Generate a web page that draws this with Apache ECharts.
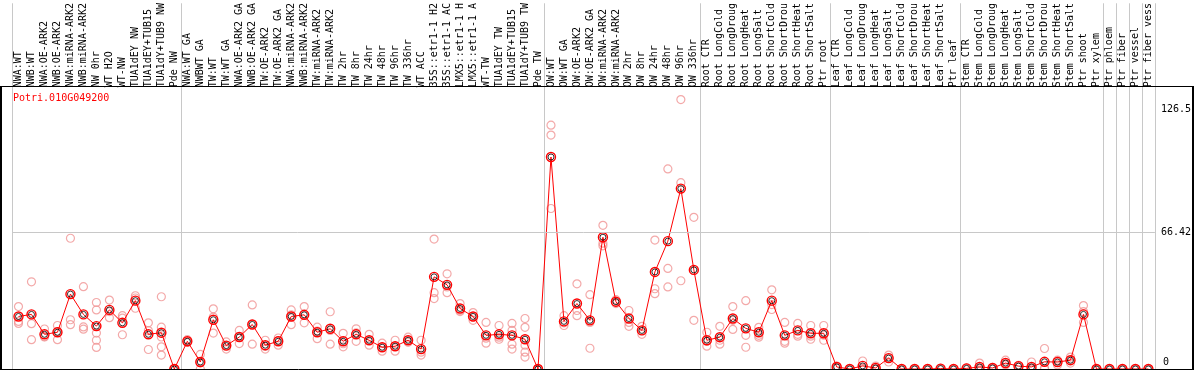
<!DOCTYPE html>
<html>
<head>
<meta charset="utf-8">
<script src="https://cdn.jsdelivr.net/npm/echarts@6/dist/echarts.min.js"></script>
<style>html,body{margin:0;padding:0;background:#fff;}#c{width:1194px;height:370px;}</style>
</head>
<body>
<div id="c"></div>
<script>
const geneId = 'Potri.010G049200';
const categories = [
 'NWA:WT','NWB:WT','NWA:OE-ARK2','NWB:OE-ARK2','NWA:miRNA-ARK2','NWB:miRNA-ARK2','NW 0hr','WT H2O','WT-NW','TUA1dEY NW','TUA1dEY+TUB15','TUA1dY+TUB9 NW','Pde NW',
 'NWA:WT GA','NWBWT GA','TW:WT','TW:WT GA','NWA:OE-ARK2 GA','NWB:OE-ARK2 GA','TW:OE-ARK2','TW:OE-ARK2 GA','NWA:miRNA-ARK2','NWB:miRNA-ARK2','TW:miRNA-ARK2','TW:miRNA-ARK2','TW 2hr','TW 8hr','TW 24hr','TW 48hr','TW 96hr','TW 336hr','WT ACC','35S::etr1-1 H2','35S::etr1-1 AC','LMX5::etr1-1 H','LMX5::etr1-1 A','WT-TW','TUA1dEY TW','TUA1dEY+TUB15','TUA1dY+TUB9 TW','Pde TW',
 'OW:WT','OW:WT GA','OW:OE-ARK2','OW:OE-ARK2 GA','OW:miRNA-ARK2','OW:miRNA-ARK2','OW 2hr','OW 8hr','OW 24hr','OW 48hr','OW 96hr','OW 336hr',
 'Root CTR','Root LongCold','Root LongDroug','Root LongHeat','Root LongSalt','Root ShortCold','Root ShortDrou','Root ShortHeat','Root ShortSalt','Ptr root',
 'Leaf CTR','Leaf LongCold','Leaf LongDroug','Leaf LongHeat','Leaf LongSalt','Leaf ShortCold','Leaf ShortDrou','Leaf ShortHeat','Leaf ShortSalt','Ptr leaf',
 'Stem CTR','Stem LongCold','Stem LongDroug','Stem LongHeat','Stem LongSalt','Stem ShortCold','Stem ShortDrou','Stem ShortHeat','Stem ShortSalt','Ptr shoot','Ptr xylem',
 'Ptr phloem','Ptr fiber','Ptr vessel','Ptr fiber vess'
];
// group boundaries (index of first category of each group, plus the end)
const groupStarts = [0, 13, 41, 53, 63, 73, 84, 85, 86, 87, 88];
// mean expression per category
const means = [
 25.6,26.6,16.9,17.9,36.5,26.6,20.9,28.8,22.5,33.3,16.9,17.7,0,
 13.5,3.4,24.0,11.4,15.6,21.7,11.6,13.5,25.6,26.4,17.9,19.6,13.5,16.9,14.0,10.6,11.1,14.0,9.7,44.9,41.0,29.5,25.6,16.4,16.9,16.4,14.5,0,
 103.3,23.2,31.9,23.7,64.2,32.8,24.6,18.8,47.3,62.3,87.9,48.3,
 14.0,15.5,24.6,19.8,17.9,33.3,16.4,18.8,17.4,17.4,
 1.0,0,1.5,0.5,5.3,0,0,0,0.2,0,
 0.3,1.0,0.5,2.9,1.4,1.0,3.5,3.4,4.3,26.6,0,
 0,0,0,0
];
// replicate values per category
const replicates = [
 [30.4,23.2,22.2],[42.5,22.1,14.3],[19.5,15.6,15.8],[21.2,18.2,14.3],[24.0,21.6,63.7],[40.1,20.5,19.4],[32.4,28.8,17.5,14.0,10.5],[33.6,28.0,25.0],[26.0,24.8,16.7],[35.7,34.6,29.6],[22.5,9.5,18.7],[35.2,20.4,15.6,10.8,6.8],[0,0,0],
 [14.3,13.0,13.2],[7.1,3.0,0],[29.3,25.3,17.5],[13.2,9.7,11.4],[18.8,12.4,15.6],[31.2,12.1,21.8],[14.0,9.7,11.0],[15.1,11.6,13.8],[28.8,21.6,26.4],[30.4,22.5,26.3],[20.4,14.8,18.5],[27.9,12.1,18.8],[17.4,10.8,12.3],[19.6,13.5,17.6],[16.9,11.6,14.0],[12.6,8.7,10.6],[14.0,8.7,11.0],[15.5,13.0,14.0],[14.0,8.2,6.8],[63.3,37.2,34.3],[46.4,37.2,40.0],[31.9,28.0,28.5],[27.5,23.7,25.4],[22.7,12.6,15.0],[21.2,14.5,15.5],[22.2,18.8,12.1,9.7],[24.6,20.3,11.6,8.2,5.8],[0,0,0],
 [118.8,114.0,78.2],[26.0,21.2,22.5],[41.5,28.5,26.0],[36.2,22.7,10.1],[70.0,61.3,60.0],[33.8,31.9,32.5],[28.5,22.7,20.8],[20.8,16.9,18.7],[62.8,39.1,36.7],[97.5,49.0,40.0],[131.3,90.8,43.0],[73.9,23.7,48.0],
 [17.9,11.1,13.5],[20.8,14.0,12.1],[30.4,23.7,19.3],[33.3,16.4,10.6],[20.3,16.4,15.5],[38.6,31.4,29.0],[22.7,13.5,12.6],[22.2,16.9,16.0],[21.2,14.5,16.0],[21.2,14.0,16.5],
 [1.4,1.0,0.6],[0,0,0],[3.9,0.4,0.3],[1.4,0,0],[6.8,3.4,5.3],[0,0,0],[0,0,0],[0,0,0],[0.3,0.2,0],[0,0,0],
 [0.5,0.2,0.2],[2.9,0.3,0],[0.8,0.4,0.3],[4.3,2.0,2.4],[1.8,1.4,1.0],[3.4,0.3,0],[10.0,0.3,0.2],[4.3,2.0,3.9],[5.8,2.9,4.3],[30.9,28.0,22.7],[0,0,0],
 [0,0,0],[0,0,0],[0,0,0],[0,0,0]
];
const yTickValues = [0, 66.42, 126.5];
const refLine = 66.42;

const repPoints = [];
replicates.forEach((arr, i) => arr.forEach(v => repPoints.push([i, v])));
const boundarySet = new Set(groupStarts);
const mono = 'DejaVu Sans Mono';

const chart = echarts.init(document.getElementById('c'), null, {renderer: 'canvas'});
chart.setOption({
  animation: false,
  backgroundColor: '#fff',
  title: {
    text: geneId, left: 8, top: 88,
    textStyle: {color: '#ff0000', fontFamily: mono, fontSize: 10, fontWeight: 'normal'}
  },
  grid: {left: 12, right: 38, top: 0, bottom: 1},
  xAxis: {
    type: 'category', data: categories, position: 'top', offset: -86,
    boundaryGap: true,
    axisLine: {show: false}, axisTick: {show: false},
    axisLabel: {rotate: 90, interval: 0, margin: 2, color: '#000', fontFamily: mono, fontSize: 10},
    splitLine: {show: true, interval: (idx) => boundarySet.has(idx), lineStyle: {color: '#c8c8c8', width: 1}}
  },
  yAxis: {
    type: 'value', position: 'right', min: 0, max: 178.2,
    axisLine: {show: false}, axisTick: {show: false}, splitLine: {show: false},
    axisLabel: {
      customValues: yTickValues, margin: 6, color: '#000', fontFamily: mono, fontSize: 10,
      formatter: (v) => v === 0 ? '{z|0}' : '{n|' + v + '}',
      rich: {z: {padding: [0, 0, 13, 2], fontFamily: mono, fontSize: 10}, n: {fontFamily: mono, fontSize: 10}}
    }
  },
  series: [
    {
      type: 'scatter', data: repPoints, symbol: 'circle', symbolSize: 8, z: 2,
      itemStyle: {color: 'rgba(0,0,0,0)', borderColor: '#f09494', borderWidth: 1.2}
    },
    {
      type: 'line', data: means, symbol: 'circle', symbolSize: 9, z: 3,
      lineStyle: {color: '#ff0000', width: 1},
      itemStyle: {color: 'rgba(0,0,0,0)', borderColor: '#ff0000', borderWidth: 1.4},
      markLine: {
        silent: true, symbol: 'none', label: {show: false},
        lineStyle: {color: '#c8c8c8', width: 1, type: 'solid'},
        data: [{yAxis: refLine}]
      }
    },
    {
      type: 'scatter', data: means, symbol: 'circle', symbolSize: 6, z: 4,
      itemStyle: {color: 'rgba(0,0,0,0)', borderColor: '#000', borderWidth: 1}
    }
  ],
  graphic: [
    {type: 'line', shape: {x1: 0, y1: 86.5, x2: 1194, y2: 86.5}, style: {stroke: '#000', lineWidth: 1}, z: 10},
    {type: 'line', shape: {x1: 1, y1: 86, x2: 1, y2: 370}, style: {stroke: '#000', lineWidth: 2}, z: 10},
    {type: 'line', shape: {x1: 1193, y1: 86, x2: 1193, y2: 370}, style: {stroke: '#000', lineWidth: 2}, z: 10},
    {type: 'line', shape: {x1: 0, y1: 369.5, x2: 1194, y2: 369.5}, style: {stroke: '#000', lineWidth: 1}, z: 10}
  ]
});
</script>
</body>
</html>
